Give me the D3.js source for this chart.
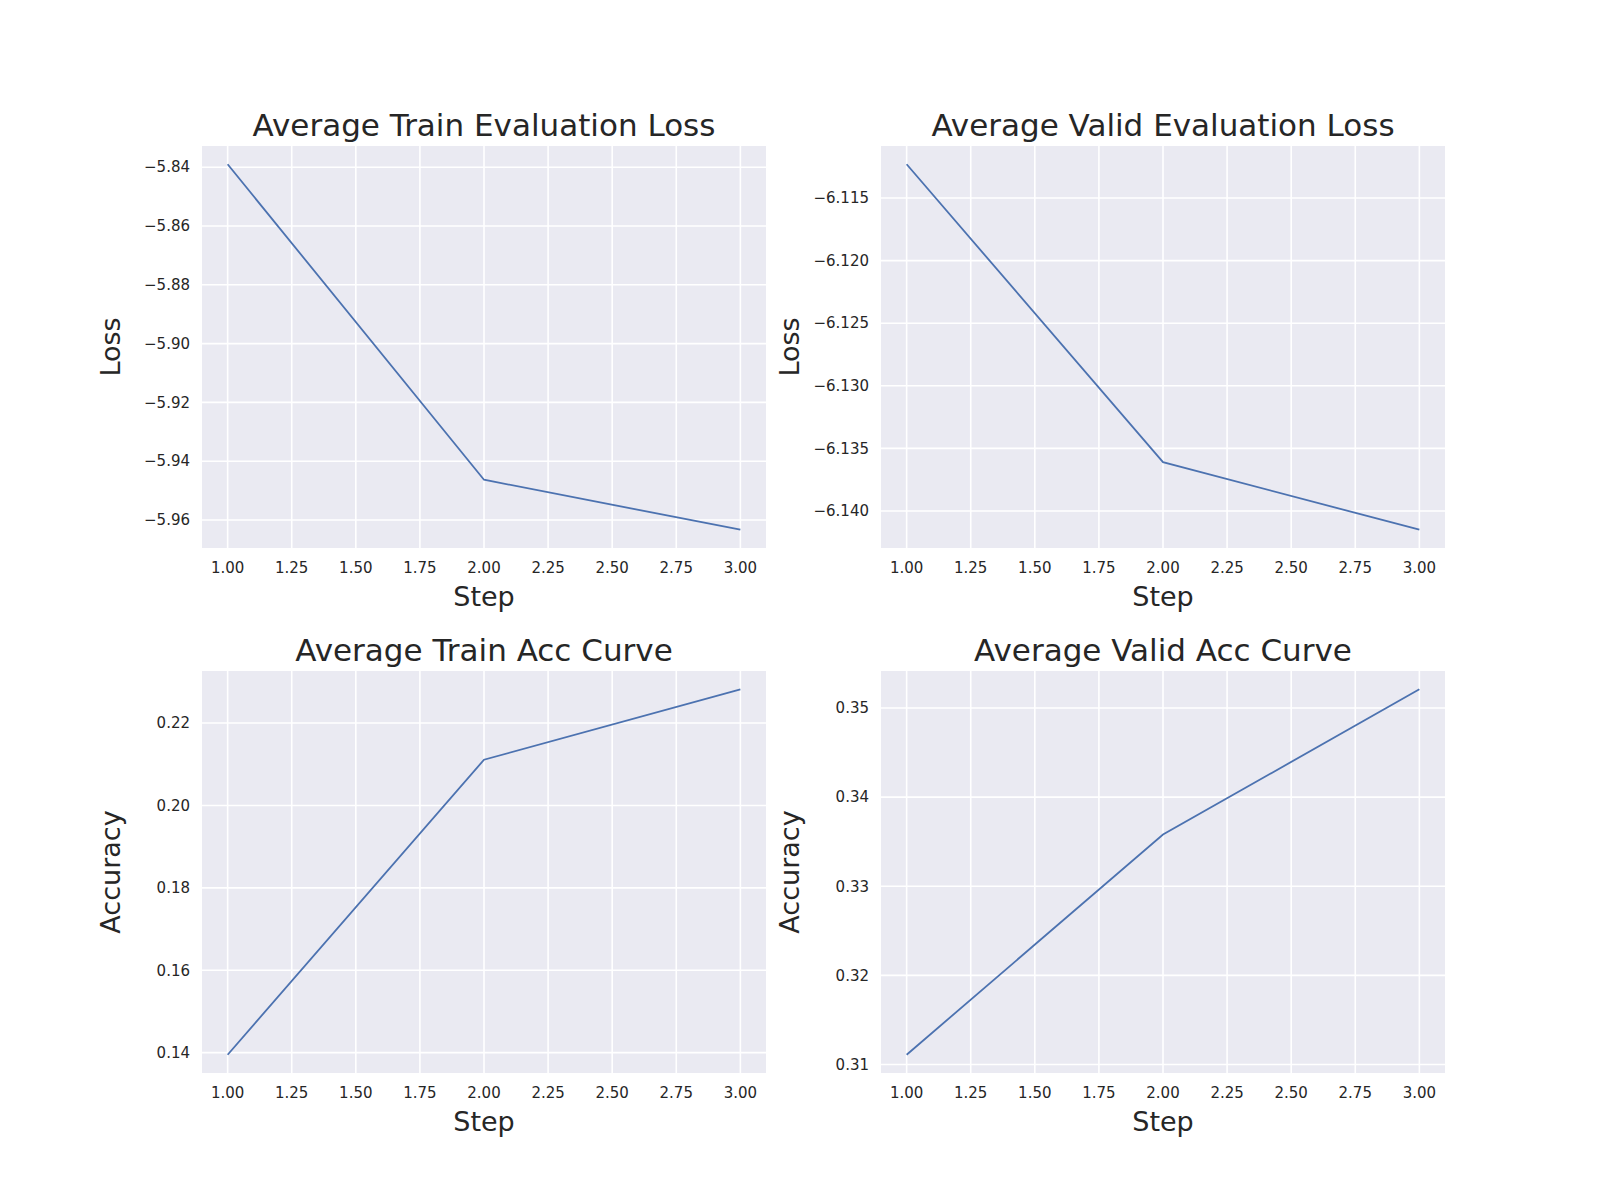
<!DOCTYPE html>
<html><head><meta charset="utf-8">
<script src="https://cdn.jsdelivr.net/npm/d3@7"></script>
<style>body{margin:0;background:#fff}text{font-family:"DejaVu Sans",sans-serif;fill:#262626}</style>
</head><body><svg id="c" width="1600" height="1200"></svg>
<script>
const steps = [1, 2, 3];
const trainLoss = [-5.839, -5.9463, -5.9633];
const validLoss = [-6.1123, -6.1361, -6.1415];
const trainAcc = [0.1395, 0.2111, 0.2282];
const validAcc = [0.3111, 0.3358, 0.3521];
const xTicks = [1, 1.25, 1.5, 1.75, 2, 2.25, 2.5, 2.75, 3];
const trainLossTicks = [-5.84, -5.86, -5.88, -5.90, -5.92, -5.94, -5.96];
const validLossTicks = [-6.115, -6.120, -6.125, -6.130, -6.135, -6.140];
const trainAccTicks = [0.14, 0.16, 0.18, 0.20, 0.22];
const validAccTicks = [0.31, 0.32, 0.33, 0.34, 0.35];

const panels = [
  {title:"Average Train Evaluation Loss", yl:"Loss", data:trainLoss, ticks:trainLossTicks, fmt:".2f", x:202, y:146},
  {title:"Average Valid Evaluation Loss", yl:"Loss", data:validLoss, ticks:validLossTicks, fmt:".3f", x:881, y:146},
  {title:"Average Train Acc Curve", yl:"Accuracy", data:trainAcc, ticks:trainAccTicks, fmt:".2f", x:202, y:671},
  {title:"Average Valid Acc Curve", yl:"Accuracy", data:validAcc, ticks:validAccTicks, fmt:".2f", x:881, y:671}
];
const W = 564, H = 402;
const svg = d3.select("#c");
const minus = s => s.replace("-", "\u2212");
panels.forEach(p => {
  const g = svg.append("g").attr("transform", `translate(${p.x},${p.y})`);
  const [lo, hi] = d3.extent(p.data), pad = (hi - lo) * 0.05;
  const x = d3.scaleLinear().domain([0.9, 3.1]).range([0, W]);
  const y = d3.scaleLinear().domain([lo - pad, hi + pad]).range([H, 0]);
  g.append("rect").attr("width", W).attr("height", H).attr("fill", "#EAEAF2");
  xTicks.forEach(t => g.append("line").attr("x1", x(t)).attr("x2", x(t)).attr("y1", 0).attr("y2", H).attr("stroke", "#fff").attr("stroke-width", 1.6));
  p.ticks.forEach(t => g.append("line").attr("y1", y(t)).attr("y2", y(t)).attr("x1", 0).attr("x2", W).attr("stroke", "#fff").attr("stroke-width", 1.6));
  xTicks.forEach(t => g.append("text").attr("x", x(t)).attr("y", H + 25).attr("text-anchor", "middle").attr("font-size", 15).text(d3.format(".2f")(t)));
  p.ticks.forEach(t => g.append("text").attr("x", -12).attr("y", y(t)).attr("dy", "0.35em").attr("text-anchor", "end").attr("font-size", 15).text(minus(d3.format(p.fmt)(t))));
  const line = d3.line().x((d, i) => x(steps[i])).y(d => y(d));
  g.append("path").datum(p.data).attr("d", line).attr("fill", "none").attr("stroke", "#4C72B0").attr("stroke-width", 1.8);
  g.append("text").attr("x", W / 2).attr("y", -10).attr("text-anchor", "middle").attr("font-size", 31).text(p.title);
  g.append("text").attr("x", W / 2).attr("y", H + 58).attr("text-anchor", "middle").attr("font-size", 27).text("Step");
  const yOff = p.yl === "Loss" ? -82 : (p.fmt === ".3f" ? -95 : -82);
  g.append("text").attr("transform", `translate(${yOff},${H / 2}) rotate(-90)`).attr("text-anchor", "middle").attr("font-size", 27).text(p.yl);
});
</script></body></html>
